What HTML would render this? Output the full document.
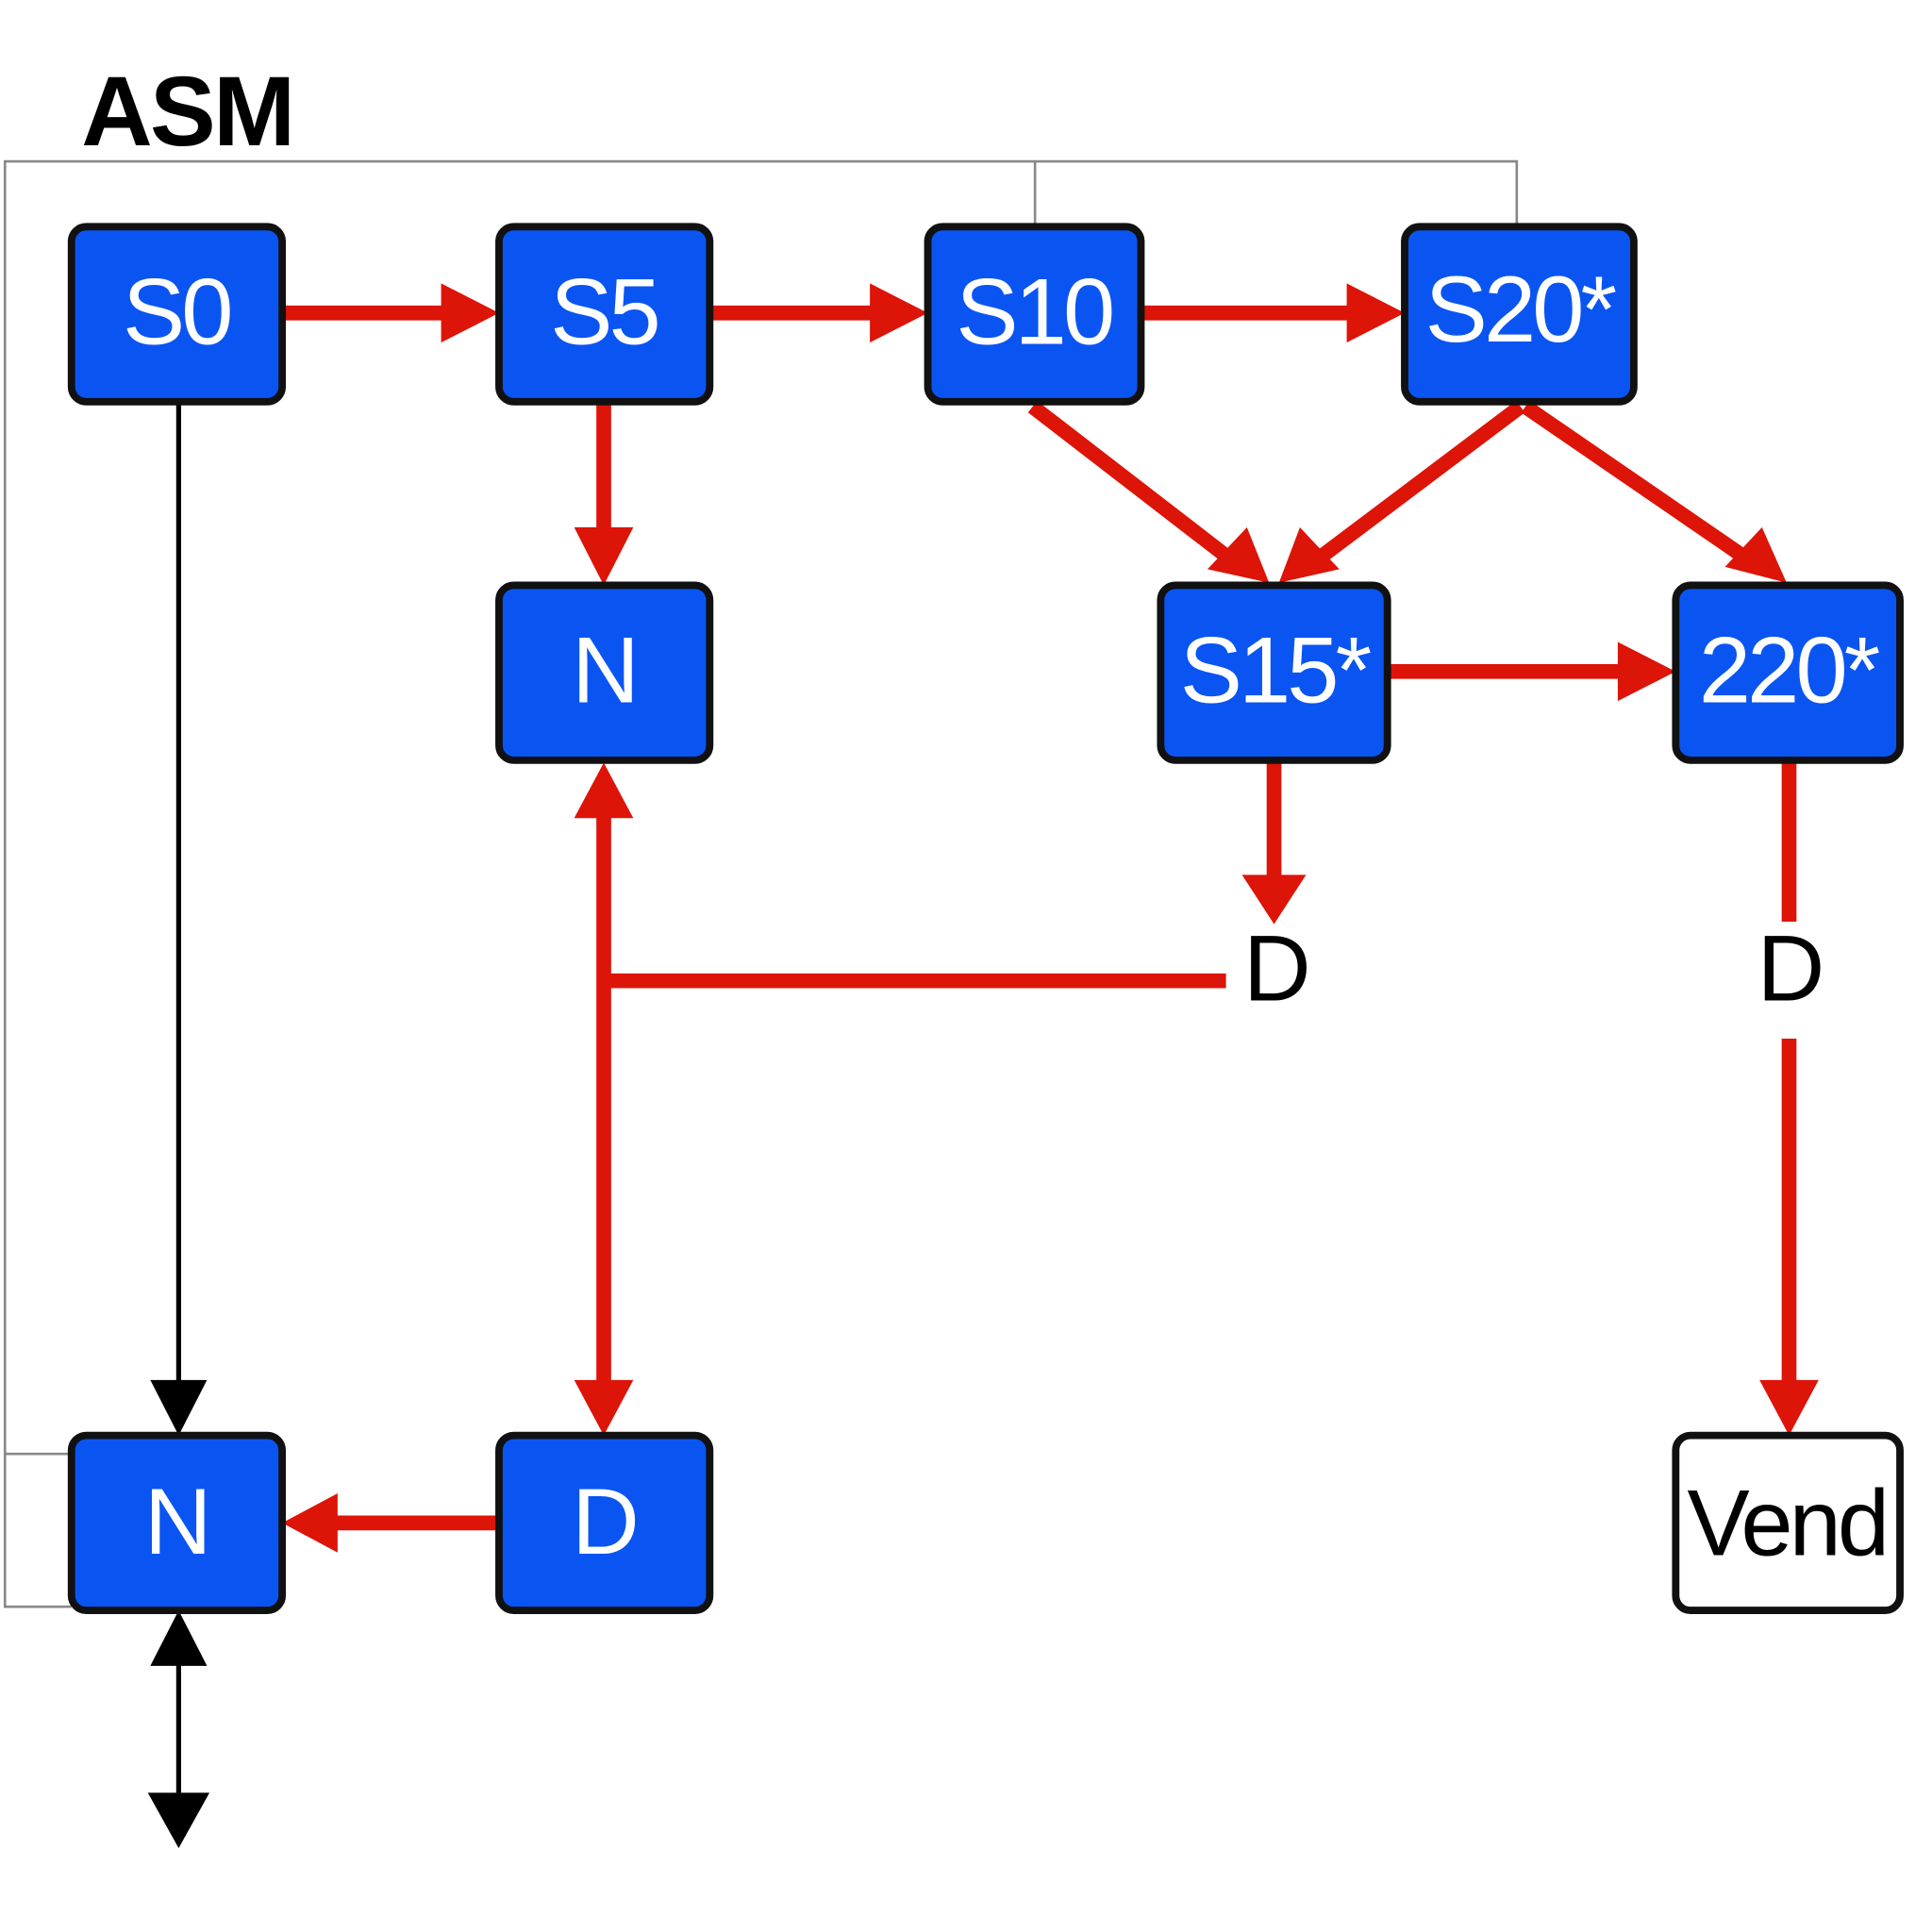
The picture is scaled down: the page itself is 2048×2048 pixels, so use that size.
<!DOCTYPE html>
<html><head><meta charset="utf-8"><style>html,body{margin:0;padding:0;background:#fff}svg{display:block}</style></head>
<body>
<svg width="2048" height="2048" viewBox="0 0 1568 1568" xmlns="http://www.w3.org/2000/svg">
<rect width="1568" height="1568" fill="#fff"/>
<text x="66" y="118" font-family="Liberation Sans, sans-serif" font-weight="bold" font-size="80" fill="#000" letter-spacing="-2">ASM</text>
<g stroke="#888" stroke-width="2" fill="none">
<polyline points="58,1180 4,1180"/>
<polyline points="58,1304 4,1304 4,131 1231,131 1231,184"/>
<line x1="840" y1="131" x2="840" y2="184"/>
</g>
<g stroke="#dd1408" stroke-width="12" fill="none">
<line x1="229" y1="254" x2="362" y2="254"/>
<line x1="576" y1="254" x2="710" y2="254"/>
<line x1="926" y1="254" x2="1096" y2="254"/>
<line x1="490" y1="326" x2="490" y2="432"/>
<line x1="838" y1="330" x2="1000" y2="455"/>
<line x1="1234" y1="330" x2="1068" y2="455"/>
<line x1="1238" y1="330" x2="1420" y2="455"/>
<line x1="1126" y1="545" x2="1316" y2="545"/>
<line x1="1034" y1="617" x2="1034" y2="712"/>
<line x1="1452" y1="617" x2="1452" y2="748"/>
<line x1="1452" y1="843" x2="1452" y2="1122"/>
<line x1="995" y1="796" x2="490" y2="796"/>
<line x1="490" y1="660" x2="490" y2="1122"/>
<line x1="405" y1="1236" x2="272" y2="1236"/>
</g>
<g fill="#dd1408">
<polygon points="405,254 358,230 358,278"/>
<polygon points="753,254 706,230 706,278"/>
<polygon points="1140,254 1093,230 1093,278"/>
<polygon points="490,475 466,428 514,428"/>
<polygon points="1030,473 980,462 1012,428"/>
<polygon points="1038,473 1055,428 1087,462"/>
<polygon points="1450,473 1400,460 1430,428"/>
<polygon points="1360,545 1313,521 1313,569"/>
<polygon points="1034,750 1008,710 1060,710"/>
<polygon points="1452,1165 1428,1120 1476,1120"/>
<polygon points="490,619 466,664 514,664"/>
<polygon points="490,1165 466,1120 514,1120"/>
<polygon points="229,1236 274,1212 274,1260"/>
</g>
<g stroke="#000" stroke-width="4">
<line x1="145" y1="326" x2="145" y2="1130"/>
<line x1="145" y1="1345" x2="145" y2="1462"/>
</g>
<g fill="#000">
<polygon points="145,1165 122,1120 168,1120"/>
<polygon points="145,1307 122,1352 168,1352"/>
<polygon points="145,1500 120,1455 170,1455"/>
</g>
<g stroke="#111" stroke-width="6" fill="#0a55f2">
<rect x="58" y="184" width="171" height="142" rx="12"/>
<rect x="405" y="184" width="171" height="142" rx="12"/>
<rect x="753" y="184" width="173" height="142" rx="12"/>
<rect x="1140" y="184" width="186" height="142" rx="12"/>
<rect x="405" y="475" width="171" height="142" rx="12"/>
<rect x="942" y="475" width="184" height="142" rx="12"/>
<rect x="1360" y="475" width="182" height="142" rx="12"/>
<rect x="58" y="1165" width="171" height="142" rx="12"/>
<rect x="405" y="1165" width="171" height="142" rx="12"/>
<rect x="1360" y="1165" width="182" height="142" rx="12" fill="#fff"/>
</g>
<g font-family="Liberation Sans, sans-serif" font-size="76" fill="#fff" text-anchor="middle" letter-spacing="-3">
<text x="143" y="279">S0</text>
<text x="490" y="279">S5</text>
<text x="839" y="279">S10</text>
<text x="1233" y="277">S20*</text>
<text x="490" y="570">N</text>
<text x="1034" y="570">S15*</text>
<text x="1451" y="570">220*</text>
<text x="143" y="1261">N</text>
<text x="490" y="1261">D</text>
<text x="1450" y="1262" fill="#000">Vend</text>
<text x="1035" y="812" fill="#000">D</text>
<text x="1452" y="812" fill="#000">D</text>
</g>
</svg>
</body></html>
